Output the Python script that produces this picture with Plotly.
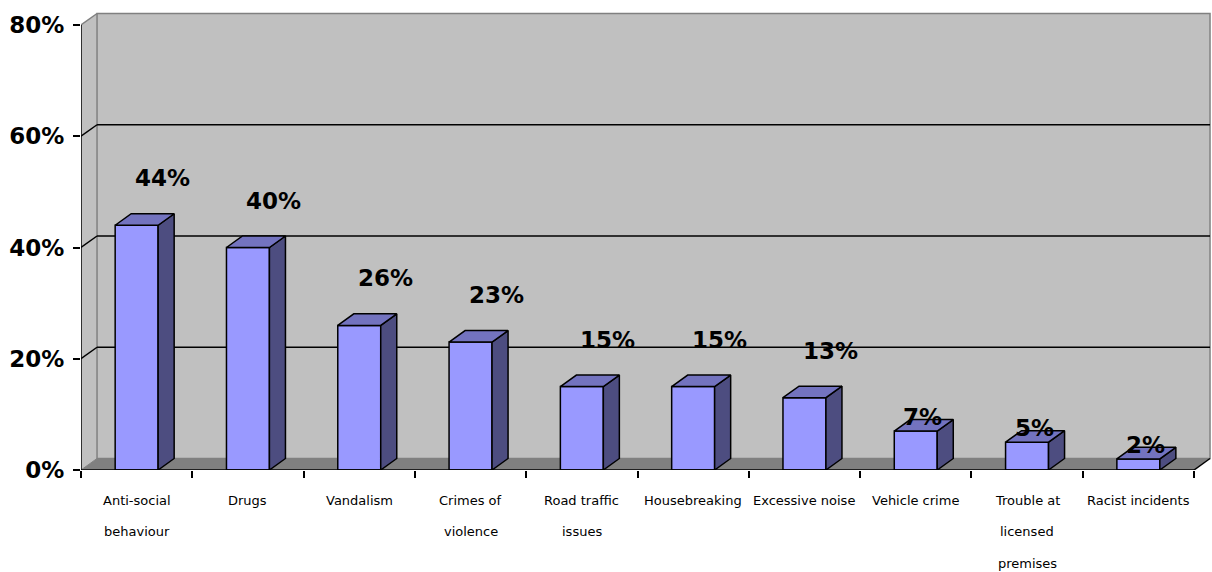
import plotly.graph_objects as go

# Survey results: share of respondents naming each local problem
categories = [
    "Anti-social\nbehaviour", "Drugs", "Vandalism", "Crimes of\nviolence",
    "Road traffic\nissues", "Housebreaking", "Excessive noise", "Vehicle crime",
    "Trouble at\nlicensed\npremises", "Racist incidents",
]
values = [44, 40, 26, 23, 15, 15, 13, 7, 5, 2]
y_ticks = [0, 20, 40, 60, 80]
y_tick_labels = ["0%", "20%", "40%", "60%", "80%"]

# Colours of the 3-D column look
FRONT = "#9999FF"
SIDE = "#4D4D80"
TOP = "#7373BF"
WALL = "#C0C0C0"
FLOOR = "#808080"
EDGE = "#808080"
FONT = "DejaVu Sans"

n = len(categories)
xs = list(range(n))
x_left, x_right = -0.5, n - 0.5
y_max = y_ticks[-1]
depth_x = 0.144   # depth of the box, in category units
depth_y = 2.07    # depth of the box, in percentage units
bar_w = 0.386

fig = go.Figure()

# Front faces of the columns
fig.add_trace(go.Bar(
    x=xs, y=values, width=bar_w,
    marker=dict(color=FRONT, line=dict(color="black", width=1.5)),
    hoverinfo="skip", showlegend=False,
))

# Side and top faces, derived from each column's value
for xi, v in zip(xs, values):
    l, r = xi - bar_w / 2, xi + bar_w / 2
    fig.add_trace(go.Scatter(
        x=[r, r + depth_x, r + depth_x, r, r],
        y=[0, depth_y, v + depth_y, v, 0],
        mode="lines", fill="toself", fillcolor=SIDE,
        line=dict(color="black", width=1.5),
        hoverinfo="skip", showlegend=False,
    ))
    fig.add_trace(go.Scatter(
        x=[l, r, r + depth_x, l + depth_x, l],
        y=[v, v, v + depth_y, v + depth_y, v],
        mode="lines", fill="toself", fillcolor=TOP,
        line=dict(color="black", width=1.5),
        hoverinfo="skip", showlegend=False,
    ))

shapes = []
# Left side wall
shapes.append(dict(
    type="path", layer="below", xref="x", yref="y",
    path=f"M {x_left},0 L {x_left + depth_x},{depth_y} L {x_left + depth_x},{y_max + depth_y} L {x_left},{y_max} Z",
    fillcolor=WALL, line=dict(width=0),
))
# Back wall
shapes.append(dict(
    type="rect", layer="below", xref="x", yref="y",
    x0=x_left + depth_x, x1=x_right + depth_x, y0=depth_y, y1=y_max + depth_y,
    fillcolor=WALL, line=dict(color=EDGE, width=1.5),
))
# Floor
shapes.append(dict(
    type="path", layer="below", xref="x", yref="y",
    path=f"M {x_left},0 L {x_right},0 L {x_right + depth_x},{depth_y} L {x_left + depth_x},{depth_y} Z",
    fillcolor=FLOOR, line=dict(width=0),
))
# Gridlines on the side and back walls
for t in y_ticks[1:-1]:
    shapes.append(dict(type="line", layer="below", xref="x", yref="y",
                       x0=x_left, y0=t, x1=x_left + depth_x, y1=t + depth_y,
                       line=dict(color="black", width=1.5)))
    shapes.append(dict(type="line", layer="below", xref="x", yref="y",
                       x0=x_left + depth_x, y0=t + depth_y, x1=x_right + depth_x, y1=t + depth_y,
                       line=dict(color="black", width=1.5)))
# Top edge of the side wall and the floor's left edge
shapes.append(dict(type="line", layer="below", xref="x", yref="y",
                   x0=x_left, y0=y_max, x1=x_left + depth_x, y1=y_max + depth_y,
                   line=dict(color=EDGE, width=1.5)))
shapes.append(dict(type="line", layer="below", xref="x", yref="y",
                   x0=x_left, y0=0, x1=x_left + depth_x, y1=depth_y,
                   line=dict(color=EDGE, width=1)))
# Value axis and category axis lines
shapes.append(dict(type="line", layer="above", xref="x", yref="y",
                   x0=x_left, y0=0, x1=x_left, y1=y_max,
                   line=dict(color="black", width=1.5)))
shapes.append(dict(type="line", layer="above", xref="x", yref="y",
                   x0=x_left, y0=0, x1=x_right, y1=0,
                   line=dict(color="black", width=1.5)))
shapes.append(dict(type="line", layer="above", xref="x", yref="y",
                   x0=x_right, y0=0, x1=x_right + depth_x, y1=depth_y,
                   line=dict(color="black", width=1.5)))

annotations = []
# Value labels above the columns
for xi, v in zip(xs, values):
    wide = v >= 10
    annotations.append(dict(
        x=xi, y=v, xref="x", yref="y", text=f"{v}%", showarrow=False,
        xanchor="center", yanchor="middle",
        xshift=26 if wide else 7, yshift=47 if wide else 14,
        font=dict(family=FONT, size=23, color="black", weight="bold"),
    ))
# Category names, one line per annotation
for xi, cat in zip(xs, categories):
    for k, line in enumerate(cat.split("\n")):
        annotations.append(dict(
            x=xi, y=0, xref="x", yref="y", text=line, showarrow=False,
            xanchor="center", yanchor="middle", yshift=-(30 + 31.5 * k),
            font=dict(family=FONT, size=13, color="black"),
        ))

px_per_cat = 1113 / n
fig.update_layout(
    width=1212, height=572,
    margin=dict(l=81, r=0, t=0, b=102),
    paper_bgcolor="white", plot_bgcolor="white",
    showlegend=False,
    shapes=shapes, annotations=annotations,
    xaxis=dict(
        range=[x_left, x_right + 18 / px_per_cat],
        showgrid=False, zeroline=False, showline=False,
        tickmode="array", tickvals=[x_left + k for k in range(n + 1)],
        ticks="outside", ticklen=7, tickwidth=1.5, tickcolor="black",
        showticklabels=False, fixedrange=True,
    ),
    yaxis=dict(
        range=[0, 470 / (445 / y_max)],
        showgrid=False, zeroline=False, showline=False,
        tickmode="array", tickvals=y_ticks, ticktext=y_tick_labels,
        ticks="outside", ticklen=7, tickwidth=1.5, tickcolor="black",
        ticklabelstandoff=4,
        tickfont=dict(family=FONT, size=23, color="black", weight="bold"),
        fixedrange=True,
    ),
)

fig.write_html("out.html")
